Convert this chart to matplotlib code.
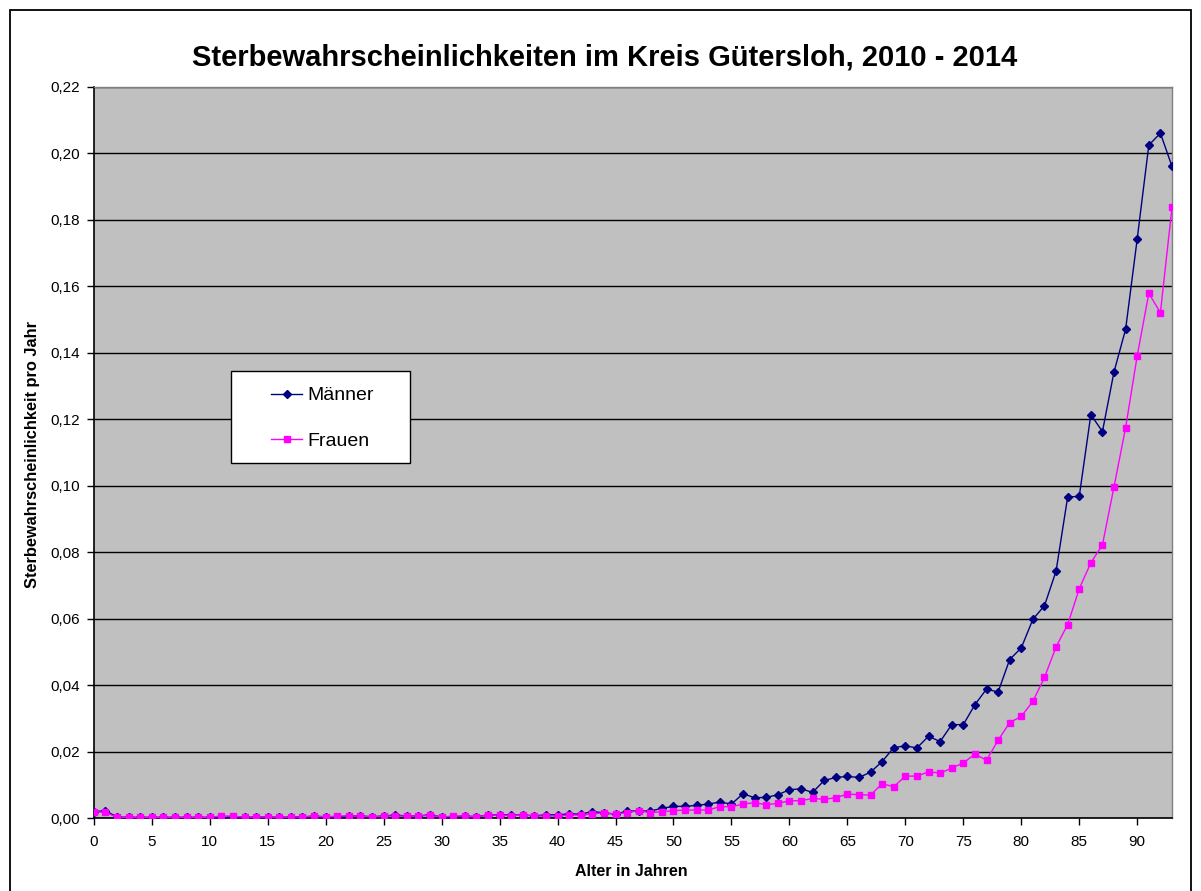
import matplotlib
matplotlib.use("Agg")
import matplotlib.pyplot as plt
from matplotlib.patches import Rectangle
from matplotlib.ticker import FuncFormatter, MultipleLocator

plt.rcParams['font.family'] = ['Liberation Sans', 'DejaVu Sans']

ages = list(range(0, 94))

maenner = [0.0019, 0.0022, 0.0003, 0.0002, 0.0002, 0.0002, 0.0002, 0.0002, 0.0002, 0.0002,
           0.0002, 0.0001, 0.0004, 0.0002, 0.0003, 0.0003, 0.0002, 0.0003, 0.0004, 0.0005,
           0.0004, 0.0003, 0.0006, 0.0006, 0.0004, 0.0006, 0.0009, 0.0006, 0.0006, 0.0010,
           0.0003, 0.0004, 0.0006, 0.0004, 0.0009, 0.0010, 0.0009, 0.0009, 0.0007, 0.0009,
           0.0010, 0.0012, 0.0012, 0.0019, 0.0016, 0.0011, 0.0021, 0.0021, 0.0021, 0.0029,
           0.0035, 0.0035, 0.0038, 0.0042, 0.0048, 0.0042, 0.0073, 0.0061, 0.0062, 0.0070,
           0.0085, 0.0088, 0.0077, 0.0113, 0.0122, 0.0125, 0.0122, 0.0138, 0.0170, 0.0212,
           0.0217, 0.0211, 0.0246, 0.0230, 0.0281, 0.0281, 0.0341, 0.0388, 0.0379, 0.0477,
           0.0512, 0.0598, 0.0639, 0.0743, 0.0966, 0.0968, 0.1214, 0.1163, 0.1343, 0.1471,
           0.1743, 0.2025, 0.2061, 0.1961]

frauen = [0.0019, 0.0017, 0.0002, 0.0002, 0.0002, 0.0002, 0.0002, 0.0002, 0.0002, 0.0002,
          0.0002, 0.0006, 0.0006, 0.0002, 0.0003, 0.0003, 0.0002, 0.0003, 0.0003, 0.0006,
          0.0003, 0.0006, 0.0006, 0.0006, 0.0003, 0.0006, 0.0006, 0.0006, 0.0006, 0.0008,
          0.0003, 0.0006, 0.0006, 0.0003, 0.0009, 0.0009, 0.0007, 0.0009, 0.0006, 0.0006,
          0.0006, 0.0009, 0.0009, 0.0012, 0.0016, 0.0012, 0.0016, 0.0022, 0.0016, 0.0019,
          0.0022, 0.0024, 0.0024, 0.0024, 0.0034, 0.0034, 0.0042, 0.0046, 0.0040, 0.0044,
          0.0052, 0.0052, 0.0059, 0.0056, 0.0061, 0.0072, 0.0070, 0.0069, 0.0103, 0.0094,
          0.0126, 0.0126, 0.0139, 0.0135, 0.0150, 0.0166, 0.0192, 0.0174, 0.0234, 0.0287,
          0.0306, 0.0351, 0.0423, 0.0515, 0.0582, 0.0690, 0.0768, 0.0822, 0.0997, 0.1175,
          0.1391, 0.1579, 0.1521, 0.1838]

x_ticks = list(range(0, 91, 5))

W, H = 1201, 891
fig = plt.figure(figsize=(W / 100, H / 100), dpi=100)
fig.patch.set_facecolor('white')

# outer chart border
fig.patches.append(Rectangle((10 / W, -0.05), 1181 / W, 1.05 - 10 / H, transform=fig.transFigure,
                             fill=False, edgecolor='black', linewidth=1.3))

left, right, top, bottom = 93.8, 1172, 87, 818
ax = fig.add_axes([left / W, 1 - bottom / H, (right - left) / W, (bottom - top) / H])
ax.set_facecolor('#C0C0C0')

ax.plot(ages, maenner, color='#000080', marker='D', markersize=4.5, linewidth=1.0, label='Männer', zorder=3)
ax.plot(ages, frauen, color='#FF00FF', marker='s', markersize=4.8, linewidth=1.0, label='Frauen', zorder=3)

ax.set_xlim(0, 93)
ax.set_ylim(0, 0.22)
ax.set_xticks(x_ticks)
ax.yaxis.set_major_locator(MultipleLocator(0.02))
ax.yaxis.set_major_formatter(FuncFormatter(lambda v, p: f"{v:.2f}".replace('.', ',')))
ax.grid(axis='y', color='black', linewidth=1.0)
ax.set_axisbelow(True)
ax.tick_params(axis='both', direction='out', length=5, width=1, labelsize=11, colors='black')
ax.tick_params(axis='x', pad=7)
ax.tick_params(axis='y', pad=5)

for s in ['left', 'bottom']:
    ax.spines[s].set_color('black')
    ax.spines[s].set_linewidth(1.2)
for s in ['top', 'right']:
    ax.spines[s].set_color('#808080')
    ax.spines[s].set_linewidth(1.0)

fig.text(631 / W, 1 - 872 / H, 'Alter in Jahren', ha='center', va='center',
         fontsize=11.5, fontweight='bold')
fig.text(33 / W, 1 - 455 / H, 'Sterbewahrscheinlichkeit pro Jahr', ha='center', va='center',
         rotation=90, fontsize=11.8, fontweight='bold')

fig.text(605 / W, 1 - 57 / H, 'Sterbewahrscheinlichkeiten im Kreis Gütersloh, 2010 - 2014',
         ha='center', va='center', fontsize=21, fontweight='bold')

# legend box
fig.patches.append(Rectangle((231 / W, 1 - 463 / H), 179 / W, 92 / H, transform=fig.transFigure,
                             facecolor='white', edgecolor='black', linewidth=1.0, zorder=5))
leg = fig.legend(*ax.get_legend_handles_labels(), loc='center left',
                 bbox_to_anchor=(271 / W, 1 - 418.5 / H), frameon=False, fontsize=14,
                 borderpad=0, labelspacing=1.45, handlelength=1.6, handletextpad=0.25,
                 borderaxespad=0)
leg.set_zorder(6)

fig.savefig('out.png', dpi=100)
